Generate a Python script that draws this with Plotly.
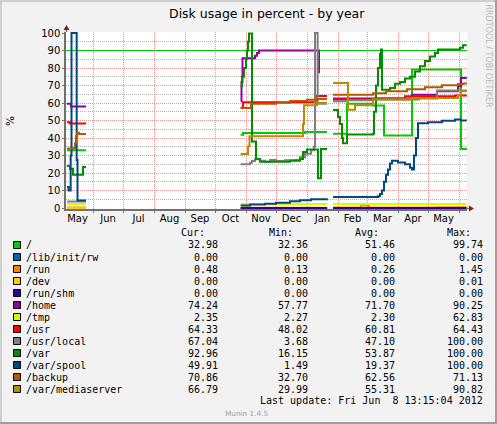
import plotly.graph_objects as go

# ---------------- data ----------------
NAMES = ["/", "/lib/init/rw", "/run", "/dev", "/run/shm", "/home", "/tmp",
         "/usr", "/usr/local", "/var", "/var/spool", "/backup", "/var/mediaserver"]
COLORS = ["#00CC00", "#0066B3", "#FF8000", "#FFCC00", "#330099", "#990099", "#CCFF00",
          "#FF0000", "#808080", "#008F00", "#00487D", "#B35A00", "#B38F00"]
CUR = [32.98, 0.00, 0.48, 0.00, 0.00, 74.24, 2.35, 64.33, 67.04, 92.96, 49.91, 70.86, 66.79]
MIN = [32.36, 0.00, 0.13, 0.00, 0.00, 57.77, 2.27, 48.02, 3.68, 16.15, 1.49, 32.70, 29.99]
AVG = [51.46, 0.00, 0.26, 0.00, 0.00, 71.70, 2.30, 60.81, 47.10, 53.87, 19.37, 62.56, 55.31]
MAX = [99.74, 0.00, 1.45, 0.01, 0.00, 90.25, 62.83, 64.43, 100.00, 100.00, 100.00, 71.13, 90.82]

root_t = ["2011-05-06", "2011-05-25", "2011-05-25 12:00",
          "2011-10-26 16:00", "2011-10-29", "2011-12-30", "2012-01-21", "2012-01-21 12:00",
          "2012-01-27", "2012-02-10", "2012-03-07", "2012-03-18", "2012-04-15", "2012-06-03",
          "2012-06-08 13:15"]
root_v = [33, 33, None, 41.8, 42.8, 43.5, 43.5, None, 42.5, 59.5, 58.5, 41.5, 79.2, 33.7, 33.0]

common_t = ["2011-05-06", "2011-05-25", "2011-05-25 12:00", "2011-10-26 16:00", "2012-01-21",
            "2012-01-21 12:00", "2012-01-27", "2012-06-08 13:15"]
libinit_v = [0, 0, None, 0, 0, None, 0, 0]
dev_v = [0, 0, None, 0, 0, None, 0, 0]
tmp_v = [2.3, 2.3, None, 2.3, 2.3, None, 2.35, 2.35]

run_t = ["2011-05-06", "2011-05-25", "2011-05-25 12:00", "2011-10-26 16:00", "2012-01-21",
         "2012-01-21 12:00", "2012-01-27", "2012-02-24", "2012-03-03", "2012-05-10",
         "2012-06-08 13:15"]
run_v = [0.3, 0.3, None, 0.2, 0.25, None, 0.25, 1.45, 0.25, 0.48, 0.48]

shm_t = ["2011-10-26 16:00", "2012-01-21", "2012-01-21 12:00", "2012-01-27", "2012-06-08 13:15"]
shm_v = [0, 0, None, 0, 0]

home_t = ["2011-05-06", "2011-05-10", "2011-05-25", "2011-05-25 12:00",
          "2011-10-26 16:00", "2011-10-27 12:00", "2011-10-28 12:00", "2011-11-10", "2011-11-12",
          "2011-11-14", "2012-01-12", "2012-01-13", "2012-01-13 12:00",
          "2012-01-27", "2012-04-15", "2012-05-10", "2012-05-31", "2012-06-03", "2012-06-08 13:15"]
home_v = [59.5, 58, 58, None, 61, 72, 85.5, 87, 88.5, 90, 90, 77, None,
          62.5, 64.7, 66.7, 69.5, 74.3, 74.24]

usr_t = ["2011-05-06", "2011-05-09", "2011-05-25", "2011-05-25 12:00",
         "2011-10-26 16:00", "2011-10-29", "2012-01-11", "2012-01-21", "2012-01-21 12:00",
         "2012-01-27", "2012-03-09", "2012-04-08", "2012-05-28", "2012-06-08 13:15"]
usr_v = [49, 48.3, 48.3, None, 57.3, 60.4, 64, 64, None, 62, 62.5, 63.8, 64.3, 64.33]

usrlocal_t = ["2011-05-06", "2011-05-25", "2011-05-25 12:00",
              "2011-10-26 16:00", "2011-11-05", "2011-11-07", "2011-11-10", "2011-11-15",
              "2011-11-20", "2011-11-25", "2011-12-01", "2011-12-10", "2011-12-20", "2011-12-25",
              "2011-12-30", "2012-01-05", "2012-01-08", "2012-01-09", "2012-01-11 16:00",
              "2012-01-21", "2012-01-21 12:00",
              "2012-01-27", "2012-02-10", "2012-03-07", "2012-04-22", "2012-05-10",
              "2012-06-08 13:15"]
usrlocal_v = [3.7, 3.7, None, 25, 25.8, 26.8, 27.8, 27, 26.5, 27.5, 26.8, 27.3, 27.5, 29, 31,
              33, 35, 100, 59.5, 59.5, None, 61, 61.5, 62, 62.5, 67.2, 67.04]

var_t = ["2011-05-06", "2011-05-09", "2011-05-12", "2011-05-22", "2011-05-25", "2011-05-25 12:00",
         "2011-10-26 16:00", "2011-10-28", "2011-10-30", "2011-11-01", "2011-11-02", "2011-11-03",
         "2011-11-04", "2011-11-07", "2011-11-11", "2011-11-15", "2011-12-15", "2011-12-25",
         "2011-12-28", "2012-01-01", "2012-01-12", "2012-01-15", "2012-01-21", "2012-01-21 12:00",
         "2012-01-27", "2012-02-01", "2012-02-03", "2012-02-05", "2012-02-06", "2012-02-10",
         "2012-03-07", "2012-03-08", "2012-03-10", "2012-03-12", "2012-03-14", "2012-03-15",
         "2012-03-16", "2012-03-24", "2012-03-29", "2012-04-03", "2012-04-08", "2012-04-13",
         "2012-04-18", "2012-04-23", "2012-04-28", "2012-05-03", "2012-05-08", "2012-05-11",
         "2012-05-31", "2012-06-02", "2012-06-05", "2012-06-08 13:15"]
var_v = [24, 22.5, 19, 23.5, 23.5, None,
         69.5, 75, 80, 85, 90, 95, 99.7, 38, 28, 26.5, 27, 28, 32, 33.5, 17, 33.7, 33.7, None,
         56, 52, 48, 40, 37, 42, 42.5, 55, 70, 80, 88, 90.5, 67.6, 68.5, 71, 72, 74, 75, 78, 81,
         84, 86.5, 88.5, 90.5, 90.5, 91.5, 93, 92.96]

spool_t = ["2011-05-06", "2011-05-07 12:00", "2011-05-09 16:00", "2011-05-10 12:00",
           "2011-05-15 16:00", "2011-05-16 12:00", "2011-05-25", "2011-05-25 12:00",
           "2011-10-26 16:00", "2011-11-05", "2011-11-20", "2011-12-01", "2011-12-15",
           "2011-12-25", "2012-01-05", "2012-01-21", "2012-01-21 12:00",
           "2012-01-27", "2012-03-12", "2012-03-14", "2012-03-16", "2012-03-18", "2012-03-20",
           "2012-03-22", "2012-03-24", "2012-03-26", "2012-04-01", "2012-04-08", "2012-04-13",
           "2012-04-15", "2012-04-17", "2012-04-19", "2012-04-21", "2012-05-01", "2012-05-15",
           "2012-05-28", "2012-06-03", "2012-06-08 13:15"]
spool_v = [12, 10, 30, 100, 27.5, 4.3, 4.3, None,
           1.5, 2, 2.5, 3, 3.8, 4.5, 5, 5.5, None,
           6.3, 6.7, 8, 10, 15, 19, 22, 25.5, 27, 26, 25, 23, 22, 30, 40, 48.5, 49, 49.8,
           50.5, 50, 49.91]

backup_t = ["2011-05-06", "2011-05-13", "2011-05-14", "2011-05-15", "2011-05-16", "2011-05-18",
            "2011-05-25", "2011-05-25 12:00",
            "2011-10-26 16:00", "2011-11-06", "2011-12-01", "2011-12-15", "2012-01-01",
            "2012-01-11", "2012-01-21", "2012-01-21 12:00",
            "2012-01-27", "2012-03-07", "2012-03-20", "2012-04-10", "2012-04-28", "2012-05-15",
            "2012-05-31", "2012-06-05", "2012-06-08 13:15"]
backup_v = [34, 34.5, 37, 41, 43, 42.3, 42.3, None,
            57.1, 59.5, 60.2, 61.2, 61.8, 62.3, 62.3, None,
            64.7, 65.5, 66.7, 67.8, 69, 70.2, 70.8, 71.13, 70.86]

media_t = ["2011-10-26 16:00", "2011-11-03", "2011-11-04 12:00", "2011-12-28", "2011-12-29",
           "2012-01-11", "2012-01-21", "2012-01-21 12:00",
           "2012-01-27", "2012-02-11", "2012-02-18", "2012-03-07", "2012-04-15", "2012-05-31",
           "2012-06-03", "2012-06-08 13:15"]
media_v = [30.8, 35.2, 41, 48, 58.7, 60, 60, None,
           71.4, 56.2, 58.7, 62, 62.8, 64, 66.7, 66.79]

SERIES_T = [root_t, common_t, run_t, common_t, shm_t, home_t, common_t,
            usr_t, usrlocal_t, var_t, spool_t, backup_t, media_t]
SERIES_V = [root_v, libinit_v, run_v, dev_v, shm_v, home_v, tmp_v,
            usr_v, usrlocal_v, var_v, spool_v, backup_v, media_v]

WARN_LEVEL = 90
Y_TICKS = list(range(0, 101, 10))
Y_MINOR = list(range(5, 100, 10))
X_RANGE = ["2011-05-05", "2012-06-09"]
TITLE = "Disk usage in percent - by year"
LAST_UPDATE = "Last update: Fri Jun\u00a0\u00a08 13:15:04 2012"
HEADERS = ["Cur:", "Min:", "Avg:", "Max:"]
SIDE_TEXT = "RRDTOOL / TOBI OETIKER"
VERSION = "Munin 1.4.5"

# ---------------- layout geometry (pixels) ----------------
W, H = 497, 424
PL, PR, PT, PB = 66, 467, 32, 209


def X(px):
    return (px - PL) / (PR - PL)


def Y(py):
    return (PB - py) / (PB - PT)


fig = go.Figure()
# warning rule: drawn first so data lines sit on top of it
fig.add_trace(go.Scatter(x=X_RANGE, y=[WARN_LEVEL, WARN_LEVEL], mode="lines",
                         line=dict(color="#00CC00", width=1), hoverinfo="skip"))
for t, v, c, n in zip(SERIES_T, SERIES_V, COLORS, NAMES):
    fig.add_trace(go.Scatter(x=t, y=v, mode="lines", name=n, connectgaps=False,
                             line=dict(color=c, width=2, shape="hv"), hoverinfo="skip"))

GRID_MAJOR = "#EB9595"
GRID_MINOR = "#B4B4B4"
AXIS_COL = "#707070"
ARROW_COL = "#801F1F"

fig.update_layout(
    width=W, height=H, autosize=False,
    margin=dict(l=PL, r=W - PR, t=PT, b=H - PB, pad=0),
    paper_bgcolor="#F2F2F2", plot_bgcolor="#FFFFFF", showlegend=False,
    font=dict(family="DejaVu Sans", size=10, color="#000000"),
    xaxis=dict(type="date", range=X_RANGE, tick0="2011-05-01", dtick="M1", tickformat="%b",
               ticklabelmode="period", showgrid=True, gridcolor=GRID_MAJOR, griddash="1px,1px",
               gridwidth=1, showline=True, linecolor=AXIS_COL, linewidth=1.5, zeroline=False,
               ticks="outside", ticklen=2, tickcolor=AXIS_COL, tickfont=dict(size=10),
               ticklabelstandoff=-3, fixedrange=True),
    yaxis=dict(range=[-0.57, 100.57], tickmode="array", tickvals=Y_TICKS, showgrid=True,
               gridcolor=GRID_MAJOR, griddash="1px,1px", gridwidth=1,
               minor=dict(tickmode="array", tickvals=Y_MINOR, showgrid=True,
                          gridcolor=GRID_MINOR, griddash="1px,1px", gridwidth=1),
               showline=True, linecolor=AXIS_COL, linewidth=1.5, zeroline=False,
               ticks="outside", ticklen=2, tickcolor=AXIS_COL, tickfont=dict(size=10),
               fixedrange=True),
)

shapes = []


def prect(x0, y0, x1, y1, fill, line=None):
    d = dict(type="rect", xref="paper", yref="paper", x0=X(x0), x1=X(x1), y0=Y(y0), y1=Y(y1),
             fillcolor=fill, layer="above")
    d["line"] = dict(width=0) if line is None else dict(color=line, width=1)
    shapes.append(d)


# frame (3D border)
prect(0, 0, W, 2, "#CFCFCF")
prect(0, 0, 2, H, "#CFCFCF")
prect(0, H - 2, W, H, "#9E9E9E")
prect(W - 2, 0, W, H, "#9E9E9E")

# axis extensions and arrows
shapes.append(dict(type="line", xref="paper", yref="paper", x0=X(466), x1=X(470), y0=Y(208.5),
                   y1=Y(208.5), line=dict(color=AXIS_COL, width=1.5)))
shapes.append(dict(type="line", xref="paper", yref="paper", x0=X(66.5), x1=X(66.5), y0=Y(32),
                   y1=Y(29), line=dict(color=AXIS_COL, width=1.5)))
shapes.append(dict(type="path", xref="paper", yref="paper",
                   path=f"M {X(469):.5f},{Y(205.5):.5f} L {X(474):.5f},{Y(208.5):.5f} "
                        f"L {X(469):.5f},{Y(211.5):.5f} Z",
                   fillcolor=ARROW_COL, line=dict(width=0)))
shapes.append(dict(type="path", xref="paper", yref="paper",
                   path=f"M {X(63.5):.5f},{Y(30):.5f} L {X(66.5):.5f},{Y(25):.5f} "
                        f"L {X(69.5):.5f},{Y(30):.5f} Z",
                   fillcolor=ARROW_COL, line=dict(width=0)))

annotations = []


def ann(text, x, y, xanchor="left", size=10, color="#000000", family="DejaVu Sans Mono",
        angle=0):
    annotations.append(dict(text=text, x=X(x), y=Y(y), xref="paper", yref="paper",
                            xanchor=xanchor, yanchor="middle", showarrow=False,
                            font=dict(size=size, color=color, family=family),
                            textangle=angle, borderpad=0, borderwidth=0))


ann(TITLE, 267, 13.5, xanchor="center", size=12.5, family="DejaVu Sans")
ann("%", 10, 121, xanchor="center", size=10.5, family="DejaVu Sans", angle=-90)
ann(SIDE_TEXT, 488.5, 56, xanchor="center", size=8, color="#B8B8B8", family="DejaVu Sans",
    angle=90)

header_x = [181, 268.5, 355, 446.5]
for h, hx in zip(HEADERS, header_x):
    ann(h, hx, 232.5)

ROW0, ROWH = 245, 12
col_right = [217.5, 307.5, 395, 483]
for i, n in enumerate(NAMES):
    ry = ROW0 + i * ROWH
    prect(13.5, ry - 3.5, 20.5, ry + 3.5, COLORS[i], line="#000000")
    ann(n, 26.3, ry)
    for vals, cx in zip([CUR, MIN, AVG, MAX], col_right):
        ann(f"{vals[i]:.2f}", cx, ry, xanchor="right")

ann(LAST_UPDATE, 483, 400.5, xanchor="right")
ann(VERSION, 246, 413.5, xanchor="center", size=7.3, color="#A0A0A0", family="DejaVu Sans")

fig.update_layout(shapes=shapes, annotations=annotations)

fig.write_html("out.html", post_script="document.body.style.margin='0';")
